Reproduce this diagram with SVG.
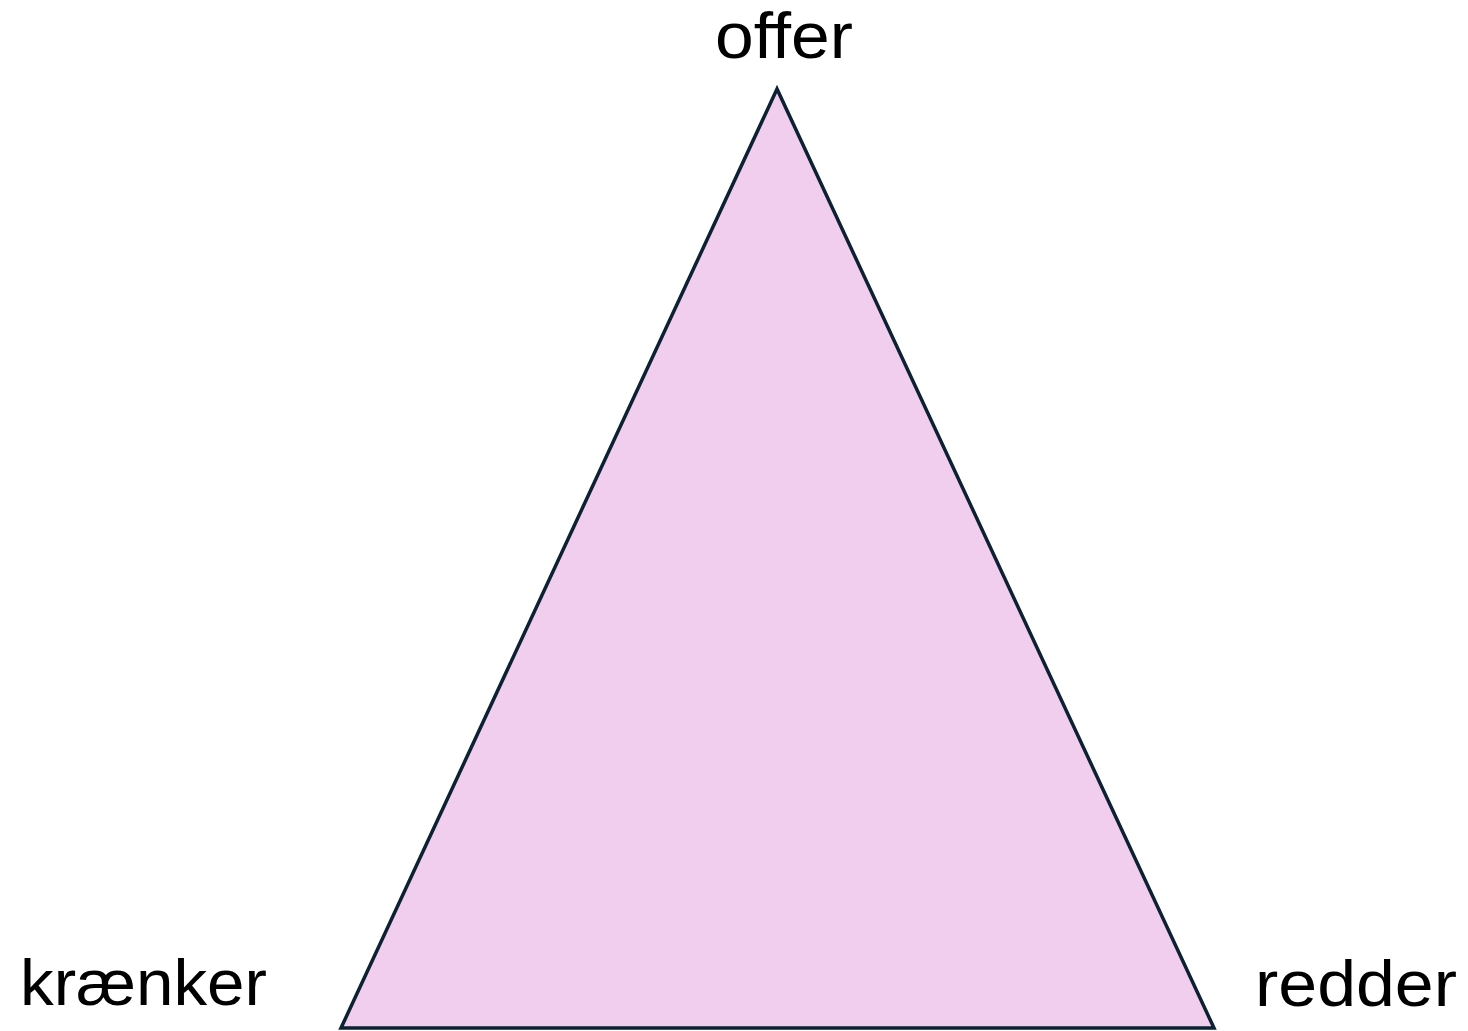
<svg xmlns="http://www.w3.org/2000/svg" width="1468" height="1031" viewBox="0 0 1468 1031">
<style>
.lbl{font-family:"Liberation Sans",Arial,sans-serif;font-size:64px;fill:#000}
.tri{fill:#F1CDEE;stroke:#0C2131;stroke-width:3.5;stroke-linejoin:miter}
</style>
<rect width="1468" height="1031" fill="#fff"/>
<g id="triangle">
<polygon class="tri" points="777,89 341,1028 1214,1028"/>
</g>
<g id="offer"><text class="lbl" x="715" y="58" textLength="138" lengthAdjust="spacingAndGlyphs">offer</text></g>
<g id="kraenker"><text class="lbl" x="20" y="1005" textLength="247" lengthAdjust="spacingAndGlyphs">krænker</text></g>
<g id="redder"><text class="lbl" x="1255" y="1006" textLength="202" lengthAdjust="spacingAndGlyphs">redder</text></g>
<g id="connectors"></g>
</svg>
